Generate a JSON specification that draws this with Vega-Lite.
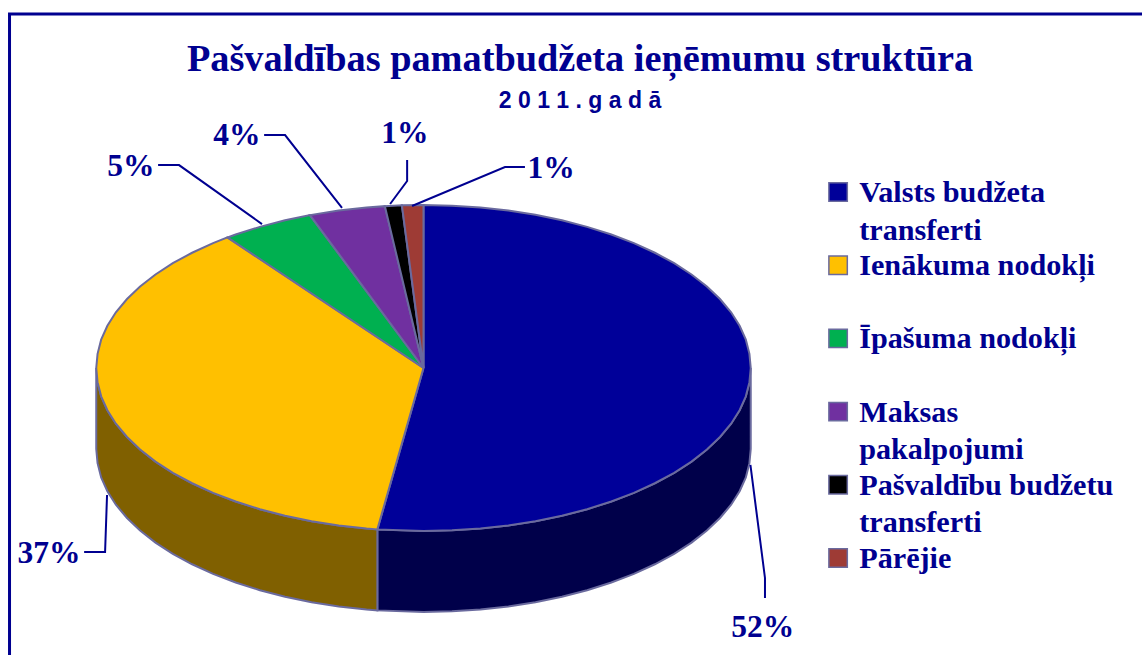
{"$schema":"https://vega.github.io/schema/vega-lite/v6.json","width":1142,"height":655,"padding":0,"autosize":{"type":"none"},"background":"white","view":{"stroke":null},
"title":{"text":"Pašvaldības pamatbudžeta ieņēmumu struktūra","subtitle":"2 0 1 1 . g a d ā","anchor":"middle","dx":9,"offset":-114,"font":"Liberation Serif","fontSize":38.3,"fontWeight":"bold","color":"#000090","subtitleFont":"Liberation Sans","subtitleFontSize":23,"subtitleFontWeight":"bold","subtitleColor":"#000090","subtitlePadding":11},
"datasets":{
"frame":[{"i":0,"x":-1.265,"y":-1.76},{"i":1,"x":-1.265,"y":2.172},{"i":2,"x":2.1956,"y":2.172}],
"wall":[
{"s":"Valsts budžeta transferti","i":0,"x":1,"y":0},{"s":"Valsts budžeta transferti","i":1,"x":0.996,"y":-0.087},{"s":"Valsts budžeta transferti","i":2,"x":0.985,"y":-0.174},{"s":"Valsts budžeta transferti","i":3,"x":0.966,"y":-0.259},{"s":"Valsts budžeta transferti","i":4,"x":0.94,"y":-0.342},{"s":"Valsts budžeta transferti","i":5,"x":0.906,"y":-0.423},{"s":"Valsts budžeta transferti","i":6,"x":0.866,"y":-0.5},{"s":"Valsts budžeta transferti","i":7,"x":0.819,"y":-0.574},{"s":"Valsts budžeta transferti","i":8,"x":0.766,"y":-0.643},{"s":"Valsts budžeta transferti","i":9,"x":0.707,"y":-0.707},{"s":"Valsts budžeta transferti","i":10,"x":0.643,"y":-0.766},{"s":"Valsts budžeta transferti","i":11,"x":0.574,"y":-0.819},{"s":"Valsts budžeta transferti","i":12,"x":0.5,"y":-0.866},{"s":"Valsts budžeta transferti","i":13,"x":0.423,"y":-0.906},{"s":"Valsts budžeta transferti","i":14,"x":0.342,"y":-0.94},{"s":"Valsts budžeta transferti","i":15,"x":0.259,"y":-0.966},{"s":"Valsts budžeta transferti","i":16,"x":0.174,"y":-0.985},{"s":"Valsts budžeta transferti","i":17,"x":0.087,"y":-0.996},{"s":"Valsts budžeta transferti","i":18,"x":0,"y":-1},{"s":"Valsts budžeta transferti","i":19,"x":-0.141,"y":-0.99},{"s":"Valsts budžeta transferti","i":20,"x":-0.141,"y":-1.487},{"s":"Valsts budžeta transferti","i":21,"x":0,"y":-1.497},{"s":"Valsts budžeta transferti","i":22,"x":0.087,"y":-1.493},{"s":"Valsts budžeta transferti","i":23,"x":0.174,"y":-1.482},{"s":"Valsts budžeta transferti","i":24,"x":0.259,"y":-1.463},{"s":"Valsts budžeta transferti","i":25,"x":0.342,"y":-1.437},{"s":"Valsts budžeta transferti","i":26,"x":0.423,"y":-1.403},{"s":"Valsts budžeta transferti","i":27,"x":0.5,"y":-1.363},{"s":"Valsts budžeta transferti","i":28,"x":0.574,"y":-1.316},{"s":"Valsts budžeta transferti","i":29,"x":0.643,"y":-1.263},{"s":"Valsts budžeta transferti","i":30,"x":0.707,"y":-1.204},{"s":"Valsts budžeta transferti","i":31,"x":0.766,"y":-1.14},{"s":"Valsts budžeta transferti","i":32,"x":0.819,"y":-1.071},{"s":"Valsts budžeta transferti","i":33,"x":0.866,"y":-0.997},{"s":"Valsts budžeta transferti","i":34,"x":0.906,"y":-0.92},{"s":"Valsts budžeta transferti","i":35,"x":0.94,"y":-0.839},{"s":"Valsts budžeta transferti","i":36,"x":0.966,"y":-0.756},{"s":"Valsts budžeta transferti","i":37,"x":0.985,"y":-0.671},{"s":"Valsts budžeta transferti","i":38,"x":0.996,"y":-0.584},{"s":"Valsts budžeta transferti","i":39,"x":1,"y":-0.497},{"s":"Valsts budžeta transferti","i":40,"x":1,"y":0},
{"s":"Ienākuma nodokļi","i":0,"x":-0.141,"y":-0.99},{"s":"Ienākuma nodokļi","i":1,"x":-0.174,"y":-0.985},{"s":"Ienākuma nodokļi","i":2,"x":-0.259,"y":-0.966},{"s":"Ienākuma nodokļi","i":3,"x":-0.342,"y":-0.94},{"s":"Ienākuma nodokļi","i":4,"x":-0.423,"y":-0.906},{"s":"Ienākuma nodokļi","i":5,"x":-0.5,"y":-0.866},{"s":"Ienākuma nodokļi","i":6,"x":-0.574,"y":-0.819},{"s":"Ienākuma nodokļi","i":7,"x":-0.643,"y":-0.766},{"s":"Ienākuma nodokļi","i":8,"x":-0.707,"y":-0.707},{"s":"Ienākuma nodokļi","i":9,"x":-0.766,"y":-0.643},{"s":"Ienākuma nodokļi","i":10,"x":-0.819,"y":-0.574},{"s":"Ienākuma nodokļi","i":11,"x":-0.866,"y":-0.5},{"s":"Ienākuma nodokļi","i":12,"x":-0.906,"y":-0.423},{"s":"Ienākuma nodokļi","i":13,"x":-0.94,"y":-0.342},{"s":"Ienākuma nodokļi","i":14,"x":-0.966,"y":-0.259},{"s":"Ienākuma nodokļi","i":15,"x":-0.985,"y":-0.174},{"s":"Ienākuma nodokļi","i":16,"x":-0.996,"y":-0.087},{"s":"Ienākuma nodokļi","i":17,"x":-1,"y":0},{"s":"Ienākuma nodokļi","i":18,"x":-1,"y":-0.497},{"s":"Ienākuma nodokļi","i":19,"x":-0.996,"y":-0.584},{"s":"Ienākuma nodokļi","i":20,"x":-0.985,"y":-0.671},{"s":"Ienākuma nodokļi","i":21,"x":-0.966,"y":-0.756},{"s":"Ienākuma nodokļi","i":22,"x":-0.94,"y":-0.839},{"s":"Ienākuma nodokļi","i":23,"x":-0.906,"y":-0.92},{"s":"Ienākuma nodokļi","i":24,"x":-0.866,"y":-0.997},{"s":"Ienākuma nodokļi","i":25,"x":-0.819,"y":-1.071},{"s":"Ienākuma nodokļi","i":26,"x":-0.766,"y":-1.14},{"s":"Ienākuma nodokļi","i":27,"x":-0.707,"y":-1.204},{"s":"Ienākuma nodokļi","i":28,"x":-0.643,"y":-1.263},{"s":"Ienākuma nodokļi","i":29,"x":-0.574,"y":-1.316},{"s":"Ienākuma nodokļi","i":30,"x":-0.5,"y":-1.363},{"s":"Ienākuma nodokļi","i":31,"x":-0.423,"y":-1.403},{"s":"Ienākuma nodokļi","i":32,"x":-0.342,"y":-1.437},{"s":"Ienākuma nodokļi","i":33,"x":-0.259,"y":-1.463},{"s":"Ienākuma nodokļi","i":34,"x":-0.174,"y":-1.482},{"s":"Ienākuma nodokļi","i":35,"x":-0.141,"y":-1.487},{"s":"Ienākuma nodokļi","i":36,"x":-0.141,"y":-0.99}],
"top":[
{"s":"Valsts budžeta transferti","i":0,"x":0,"y":0},{"s":"Valsts budžeta transferti","i":1,"x":0,"y":1},{"s":"Valsts budžeta transferti","i":2,"x":0.087,"y":0.996},{"s":"Valsts budžeta transferti","i":3,"x":0.174,"y":0.985},{"s":"Valsts budžeta transferti","i":4,"x":0.259,"y":0.966},{"s":"Valsts budžeta transferti","i":5,"x":0.342,"y":0.94},{"s":"Valsts budžeta transferti","i":6,"x":0.423,"y":0.906},{"s":"Valsts budžeta transferti","i":7,"x":0.5,"y":0.866},{"s":"Valsts budžeta transferti","i":8,"x":0.574,"y":0.819},{"s":"Valsts budžeta transferti","i":9,"x":0.643,"y":0.766},{"s":"Valsts budžeta transferti","i":10,"x":0.707,"y":0.707},{"s":"Valsts budžeta transferti","i":11,"x":0.766,"y":0.643},{"s":"Valsts budžeta transferti","i":12,"x":0.819,"y":0.574},{"s":"Valsts budžeta transferti","i":13,"x":0.866,"y":0.5},{"s":"Valsts budžeta transferti","i":14,"x":0.906,"y":0.423},{"s":"Valsts budžeta transferti","i":15,"x":0.94,"y":0.342},{"s":"Valsts budžeta transferti","i":16,"x":0.966,"y":0.259},{"s":"Valsts budžeta transferti","i":17,"x":0.985,"y":0.174},{"s":"Valsts budžeta transferti","i":18,"x":0.996,"y":0.087},{"s":"Valsts budžeta transferti","i":19,"x":1,"y":0},{"s":"Valsts budžeta transferti","i":20,"x":0.996,"y":-0.087},{"s":"Valsts budžeta transferti","i":21,"x":0.985,"y":-0.174},{"s":"Valsts budžeta transferti","i":22,"x":0.966,"y":-0.259},{"s":"Valsts budžeta transferti","i":23,"x":0.94,"y":-0.342},{"s":"Valsts budžeta transferti","i":24,"x":0.906,"y":-0.423},{"s":"Valsts budžeta transferti","i":25,"x":0.866,"y":-0.5},{"s":"Valsts budžeta transferti","i":26,"x":0.819,"y":-0.574},{"s":"Valsts budžeta transferti","i":27,"x":0.766,"y":-0.643},{"s":"Valsts budžeta transferti","i":28,"x":0.707,"y":-0.707},{"s":"Valsts budžeta transferti","i":29,"x":0.643,"y":-0.766},{"s":"Valsts budžeta transferti","i":30,"x":0.574,"y":-0.819},{"s":"Valsts budžeta transferti","i":31,"x":0.5,"y":-0.866},{"s":"Valsts budžeta transferti","i":32,"x":0.423,"y":-0.906},{"s":"Valsts budžeta transferti","i":33,"x":0.342,"y":-0.94},{"s":"Valsts budžeta transferti","i":34,"x":0.259,"y":-0.966},{"s":"Valsts budžeta transferti","i":35,"x":0.174,"y":-0.985},{"s":"Valsts budžeta transferti","i":36,"x":0.087,"y":-0.996},{"s":"Valsts budžeta transferti","i":37,"x":0,"y":-1},{"s":"Valsts budžeta transferti","i":38,"x":-0.141,"y":-0.99},{"s":"Valsts budžeta transferti","i":39,"x":0,"y":0},
{"s":"Ienākuma nodokļi","i":0,"x":0,"y":0},{"s":"Ienākuma nodokļi","i":1,"x":-0.141,"y":-0.99},{"s":"Ienākuma nodokļi","i":2,"x":-0.174,"y":-0.985},{"s":"Ienākuma nodokļi","i":3,"x":-0.259,"y":-0.966},{"s":"Ienākuma nodokļi","i":4,"x":-0.342,"y":-0.94},{"s":"Ienākuma nodokļi","i":5,"x":-0.423,"y":-0.906},{"s":"Ienākuma nodokļi","i":6,"x":-0.5,"y":-0.866},{"s":"Ienākuma nodokļi","i":7,"x":-0.574,"y":-0.819},{"s":"Ienākuma nodokļi","i":8,"x":-0.643,"y":-0.766},{"s":"Ienākuma nodokļi","i":9,"x":-0.707,"y":-0.707},{"s":"Ienākuma nodokļi","i":10,"x":-0.766,"y":-0.643},{"s":"Ienākuma nodokļi","i":11,"x":-0.819,"y":-0.574},{"s":"Ienākuma nodokļi","i":12,"x":-0.866,"y":-0.5},{"s":"Ienākuma nodokļi","i":13,"x":-0.906,"y":-0.423},{"s":"Ienākuma nodokļi","i":14,"x":-0.94,"y":-0.342},{"s":"Ienākuma nodokļi","i":15,"x":-0.966,"y":-0.259},{"s":"Ienākuma nodokļi","i":16,"x":-0.985,"y":-0.174},{"s":"Ienākuma nodokļi","i":17,"x":-0.996,"y":-0.087},{"s":"Ienākuma nodokļi","i":18,"x":-1,"y":0},{"s":"Ienākuma nodokļi","i":19,"x":-0.996,"y":0.087},{"s":"Ienākuma nodokļi","i":20,"x":-0.985,"y":0.174},{"s":"Ienākuma nodokļi","i":21,"x":-0.966,"y":0.259},{"s":"Ienākuma nodokļi","i":22,"x":-0.94,"y":0.342},{"s":"Ienākuma nodokļi","i":23,"x":-0.906,"y":0.423},{"s":"Ienākuma nodokļi","i":24,"x":-0.866,"y":0.5},{"s":"Ienākuma nodokļi","i":25,"x":-0.819,"y":0.574},{"s":"Ienākuma nodokļi","i":26,"x":-0.766,"y":0.643},{"s":"Ienākuma nodokļi","i":27,"x":-0.707,"y":0.707},{"s":"Ienākuma nodokļi","i":28,"x":-0.643,"y":0.766},{"s":"Ienākuma nodokļi","i":29,"x":-0.599,"y":0.801},{"s":"Ienākuma nodokļi","i":30,"x":0,"y":0},
{"s":"Īpašuma nodokļi","i":0,"x":0,"y":0},{"s":"Īpašuma nodokļi","i":1,"x":-0.599,"y":0.801},{"s":"Īpašuma nodokļi","i":2,"x":-0.574,"y":0.819},{"s":"Īpašuma nodokļi","i":3,"x":-0.5,"y":0.866},{"s":"Īpašuma nodokļi","i":4,"x":-0.423,"y":0.906},{"s":"Īpašuma nodokļi","i":5,"x":-0.347,"y":0.938},{"s":"Īpašuma nodokļi","i":6,"x":0,"y":0},
{"s":"Maksas pakalpojumi","i":0,"x":0,"y":0},{"s":"Maksas pakalpojumi","i":1,"x":-0.347,"y":0.938},{"s":"Maksas pakalpojumi","i":2,"x":-0.259,"y":0.966},{"s":"Maksas pakalpojumi","i":3,"x":-0.174,"y":0.985},{"s":"Maksas pakalpojumi","i":4,"x":-0.118,"y":0.993},{"s":"Maksas pakalpojumi","i":5,"x":0,"y":0},
{"s":"Pašvaldību budžetu transferti","i":0,"x":0,"y":0},{"s":"Pašvaldību budžetu transferti","i":1,"x":-0.118,"y":0.993},{"s":"Pašvaldību budžetu transferti","i":2,"x":-0.066,"y":0.998},{"s":"Pašvaldību budžetu transferti","i":3,"x":0,"y":0},
{"s":"Pārējie","i":0,"x":0,"y":0},{"s":"Pārējie","i":1,"x":-0.066,"y":0.998},{"s":"Pārējie","i":2,"x":0,"y":1},{"s":"Pārējie","i":3,"x":0,"y":0}],
"leaders":[
{"s":"a","i":0,"x":0.999,"y":-0.595},{"s":"a","i":1,"x":1.0435,"y":-1.288},{"s":"a","i":2,"x":1.0435,"y":-1.411},
{"s":"b","i":0,"x":-0.967,"y":-0.779},{"s":"b","i":1,"x":-0.973,"y":-1.129},{"s":"b","i":2,"x":-1.037,"y":-1.129},
{"s":"c","i":0,"x":-0.4935,"y":0.883},{"s":"c","i":1,"x":-0.747,"y":1.245},{"s":"c","i":2,"x":-0.811,"y":1.245},
{"s":"d","i":0,"x":-0.249,"y":0.982},{"s":"d","i":1,"x":-0.423,"y":1.429},{"s":"d","i":2,"x":-0.487,"y":1.429},
{"s":"e","i":0,"x":-0.102,"y":1.006},{"s":"e","i":1,"x":-0.05,"y":1.147},{"s":"e","i":2,"x":-0.05,"y":1.276},
{"s":"f","i":0,"x":-0.035,"y":0.994},{"s":"f","i":1,"x":0.249,"y":1.233},{"s":"f","i":2,"x":0.31,"y":1.233}],
"labels":[
{"s":"Valsts budžeta transferti","t":"52%","x":1.037,"y":-1.65},{"s":"Ienākuma nodokļi","t":"37%","x":-1.144,"y":-1.196},{"s":"Īpašuma nodokļi","t":"5%","x":-0.894,"y":1.178},{"s":"Maksas pakalpojumi","t":"4%","x":-0.57,"y":1.368},{"s":"Pašvaldību budžetu transferti","t":"1%","x":-0.057,"y":1.38},{"s":"Pārējie","t":"1%","x":0.39,"y":1.166}]
},
"encoding":{
"x":{"field":"x","type":"quantitative","axis":null,"scale":{"domain":[-1.2941,2.1956],"nice":false,"zero":false}},
"y":{"field":"y","type":"quantitative","axis":null,"scale":{"domain":[-1.7607,2.2577],"nice":false,"zero":false}}},
"layer":[
{"data":{"name":"frame"},"mark":{"type":"line","color":"#000090","strokeWidth":3,"clip":false},"encoding":{"order":{"field":"i"}}},
{"data":{"name":"wall"},"mark":{"type":"line","stroke":"#6a6a9e","strokeWidth":2},"encoding":{"order":{"field":"i"},"fill":{"field":"s","type":"nominal","legend":null,"scale":{"domain":["Valsts budžeta transferti","Ienākuma nodokļi"],"range":["#00004a","#806000"]}}}},
{"data":{"name":"top"},"mark":{"type":"line","stroke":"#6a6a9e","strokeWidth":2},"encoding":{"order":{"field":"i"},"fill":{"field":"s","type":"nominal","scale":{"domain":["Valsts budžeta transferti","Ienākuma nodokļi","Īpašuma nodokļi","Maksas pakalpojumi","Pašvaldību budžetu transferti","Pārējie"],"range":["#000099","#FFC000","#00B050","#7030A0","#000000","#9E3B35"]},"legend":{"title":null,"orient":"none","legendX":823,"legendY":177,"symbolType":"square","symbolSize":340,"symbolStrokeColor":"#6a6a9e","symbolStrokeWidth":1.5,"symbolOpacity":1,"clipHeight":30,"rowPadding":4.2,"gridAlign":"all","labelFont":"Liberation Serif","labelFontSize":30.2,"labelFontWeight":"bold","labelColor":"#000090","labelLimit":400,"labelOffset":6,"labelBaseline":"alphabetic","labelExpr":"datum.label=='Valsts budžeta transferti'?['Valsts budžeta','transferti']:datum.label=='Maksas pakalpojumi'?['Maksas','pakalpojumi']:datum.label=='Pašvaldību budžetu transferti'?['Pašvaldību budžetu','transferti']:datum.label","encode":{"labels":{"update":{"dy":{"value":10},"lineHeight":{"value":37.7}}}}}}}},
{"data":{"name":"leaders"},"mark":{"type":"line","color":"#000090","strokeWidth":2},"encoding":{"order":{"field":"i"},"detail":{"field":"s"}}},
{"data":{"name":"labels"},"mark":{"type":"text","font":"Liberation Serif","fontSize":31.5,"fontWeight":"bold","color":"#000090","baseline":"alphabetic","align":"center"},"encoding":{"text":{"field":"t"}}}
],
"resolve":{"scale":{"fill":"independent"}}}
